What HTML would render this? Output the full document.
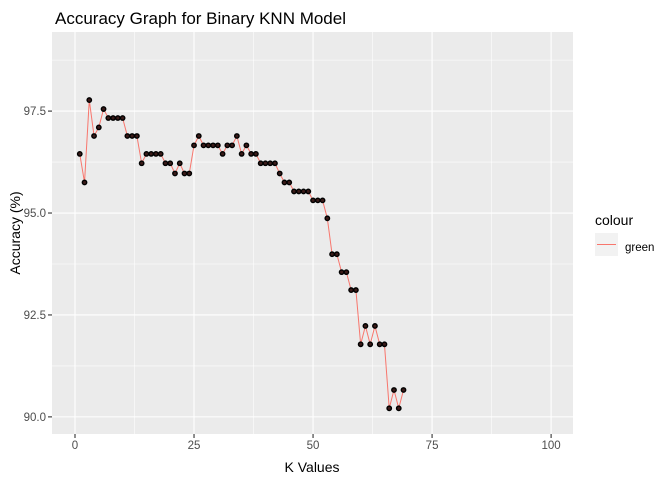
<!DOCTYPE html>
<html><head><meta charset="utf-8"><style>
body{margin:0;background:#fff;}
svg text{font-family:"Liberation Sans",sans-serif;}
</style></head><body>
<svg id="chart" width="672" height="480" xmlns="http://www.w3.org/2000/svg">
<text x="55" y="24" font-size="17" fill="#000">Accuracy Graph for Binary KNN Model</text>
<rect x="52" y="32" width="521" height="402" fill="#ebebeb"/>
<g id="grid"></g>
<g id="axes"></g>
<g id="series"></g>
<text x="312" y="472" font-size="14" text-anchor="middle">K Values</text>
<text transform="translate(20,233) rotate(-90)" font-size="14" text-anchor="middle">Accuracy (%)</text>
<g>
<text x="595" y="225" font-size="14">colour</text>
<rect x="595" y="233" width="23" height="23" fill="#f2f2f2"/>
<line x1="597" y1="244.5" x2="616" y2="244.5" stroke="#f8766d" stroke-width="1"/>
<text x="625" y="251" font-size="11.5">green</text>
</g>
</svg>
<script>
const kValues=[];for(let k=1;k<=69;k++)kValues.push(k);
const accuracy=[96.45,95.75,97.77,96.89,97.1,97.55,97.33,97.33,97.33,97.33,96.89,96.89,96.89,96.22,96.45,96.45,96.45,96.45,96.22,96.22,95.97,96.22,95.97,95.97,96.66,96.89,96.66,96.66,96.66,96.66,96.45,96.66,96.66,96.89,96.45,96.66,96.45,96.45,96.22,96.22,96.22,96.22,95.97,95.75,95.75,95.53,95.53,95.53,95.53,95.31,95.31,95.31,94.87,93.99,93.99,93.55,93.55,93.11,93.11,91.78,92.23,91.78,92.23,91.78,91.78,90.21,90.66,90.21,90.66];
const xTicks=[0,25,50,75,100];
const yTicks=[90.0,92.5,95.0,97.5];
const yTickLabels=["90.0","92.5","95.0","97.5"];
const X0=52,X1=573,Y0=32,Y1=434;
const xMin=-4.83,xMax=104.6,yMin=89.58,yMax=99.44;
const sx=v=>X0+(v-xMin)/(xMax-xMin)*(X1-X0);
const sy=v=>Y1-(v-yMin)/(yMax-yMin)*(Y1-Y0);
const NS="http://www.w3.org/2000/svg";
function mk(tag,attrs,parent){const e=document.createElementNS(NS,tag);for(const k in attrs)e.setAttribute(k,attrs[k]);parent.appendChild(e);return e;}
const grid=document.getElementById('grid'),axes=document.getElementById('axes'),series=document.getElementById('series');
for(let i=0;i<xTicks.length;i++){
  if(i<xTicks.length-1){const m=(xTicks[i]+xTicks[i+1])/2;const l=mk('line',{x1:sx(m),x2:sx(m),y1:Y0,y2:Y1,stroke:'#fff','stroke-width':0.55},grid);
  
  }
  const g=mk('line',{x1:sx(xTicks[i]),x2:sx(xTicks[i]),y1:Y0,y2:Y1,stroke:'#fff','stroke-width':1.1},grid);
  
  
  const t=mk('line',{x1:sx(xTicks[i]),x2:sx(xTicks[i]),y1:Y1,y2:Y1+4,stroke:'#333','stroke-width':1.1},axes);
  
  
  const tx=mk('text',{x:sx(xTicks[i]),y:Y1+15,'font-size':11.5,'text-anchor':'middle',fill:'#4d4d4d'},axes);
  tx.textContent=String(xTicks[i]);
  
  
}
const yMinor=[91.25,93.75,96.25,98.75];
for(const m of yMinor){const l=mk('line',{x1:X0,x2:X1,y1:sy(m),y2:sy(m),stroke:'#fff','stroke-width':0.55},grid);
  
  }
for(let i=0;i<yTicks.length;i++){
  const g=mk('line',{x1:X0,x2:X1,y1:sy(yTicks[i]),y2:sy(yTicks[i]),stroke:'#fff','stroke-width':1.1},grid);
  
  
  const t=mk('line',{x1:X0-4,x2:X0,y1:sy(yTicks[i]),y2:sy(yTicks[i]),stroke:'#333','stroke-width':1.1},axes);
  
  
  const tx=mk('text',{x:X0-6,y:sy(yTicks[i])+4,'font-size':11.5,'text-anchor':'end',fill:'#4d4d4d'},axes);
  tx.textContent=yTickLabels[i];
  
  
}
const pts=kValues.map((k,i)=>sx(k).toFixed(2)+','+sy(accuracy[i]).toFixed(2)).join(' ');
const line=mk('polyline',{points:pts,fill:'none',stroke:'#f8766d','stroke-width':1},series);


kValues.forEach((k,i)=>{
  const c=mk('circle',{cx:sx(k),cy:sy(accuracy[i]),r:2.2,fill:'#3a1a18',stroke:'#000','stroke-width':1.4},series);
  
  
});
</script>
</body></html>
